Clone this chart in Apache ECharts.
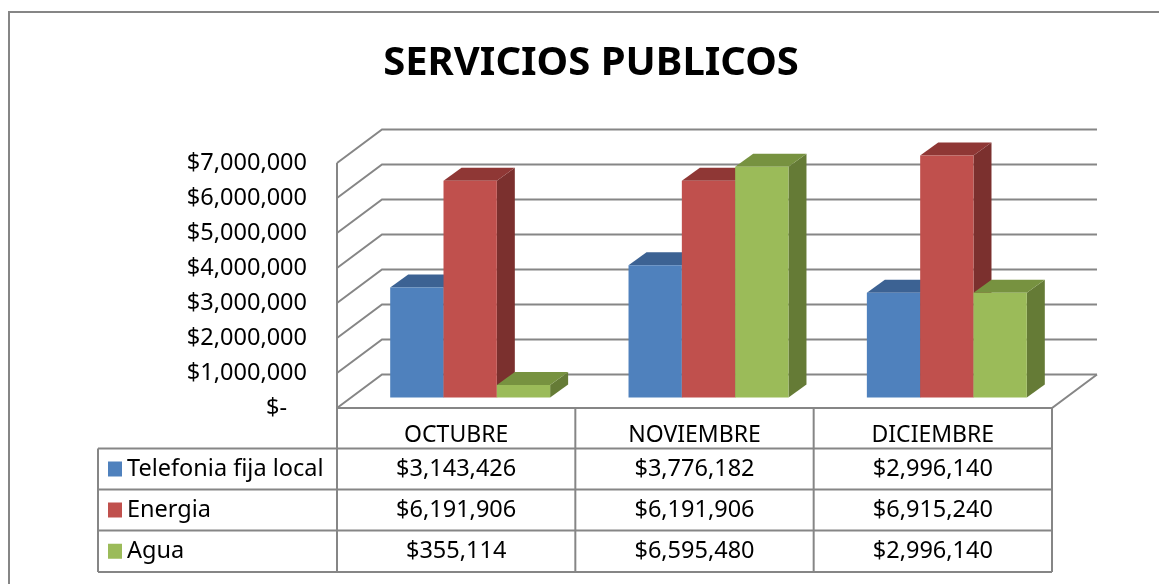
<!DOCTYPE html>
<html>
<head>
<meta charset="utf-8">
<script src="https://cdn.jsdelivr.net/npm/echarts@6/dist/echarts.min.js"></script>
<style>
  html, body { margin: 0; padding: 0; background: #fff; }
  #chart { width: 1159px; height: 584px; }
</style>
</head>
<body>
<div id="chart"></div>
<script>
  // datos
  const months = ['OCTUBRE', 'NOVIEMBRE', 'DICIEMBRE']
  const seriesNames = ['Telefonia fija local', 'Energia', 'Agua']
  const telefonia = [3143426, 3776182, 2996140]
  const energia = [6191906, 6191906, 6915240]
  const agua = [355114, 6595480, 2996140]
  const yTicks = [0, 1000000, 2000000, 3000000, 4000000, 5000000, 6000000, 7000000]

  const values = [telefonia, energia, agua]
  // colores: frente, lado, tapa
  const colors = [
    ['#4F81BD', '#2F4D73', '#3C6293'],
    ['#C0504D', '#7B302E', '#8F3735'],
    ['#9BBB59', '#657B36', '#779240']
  ]
  const lineColor = '#868686'
  const font = '"Noto Sans", sans-serif'
  const textSize = 23.5

  // profundidad de las paredes y de las barras
  const WDX = 45, WDY = -33.5
  const BDX = 14, BDY = -10.5
  const SDX = 18, SDY = -13

  const chart = echarts.init(document.getElementById('chart'))

  const fmt = v => '$' + v.toLocaleString('en-US')

  function wallItem (params, api) {
    const cs = params.coordSys
    const v = api.value(1)
    const y = api.coord([0, v])[1]
    const style = {stroke: lineColor, lineWidth: 2, fill: null}
    const children = [{
      type: 'polyline',
      shape: {points: [[cs.x, y], [cs.x + WDX, y + WDY], [cs.x + cs.width + WDX, y + WDY]]},
      style: style
    }]
    if (v === 0) {
      const yTop = api.coord([0, yTicks[yTicks.length - 1]])[1]
      children.unshift({
        type: 'polygon',
        shape: {points: [[cs.x, y], [cs.x + WDX, y + WDY], [cs.x + cs.width + WDX, y + WDY], [cs.x + cs.width, y]]},
        style: {fill: '#fff', stroke: null}
      })
      children.push({
        type: 'polyline',
        shape: {points: [[cs.x, y], [cs.x + cs.width, y], [cs.x + cs.width + WDX, y + WDY]]},
        style: style
      })
      children.push({
        type: 'line',
        shape: {x1: cs.x, y1: yTop, x2: cs.x, y2: y},
        style: style
      })
    }
    return {type: 'group', children: children}
  }

  function barRenderer (k) {
    return function (params, api) {
      const c = api.value(0)
      const v = api.value(1)
      const base = api.coord([c, 0])
      const top = api.coord([c, v])
      const band = api.size([1, 0])[0]
      const bw = band * 0.2237
      const x0 = base[0] - 1.5 * bw + k * bw + BDX
      const y0 = base[1] + BDY
      const yt = top[1] + BDY
      const col = colors[k]
      return {
        type: 'group',
        children: [
          {type: 'polygon',
            shape: {points: [[x0 + bw, yt], [x0 + bw + SDX, yt + SDY], [x0 + bw + SDX, y0 + SDY], [x0 + bw, y0]]},
            style: {fill: col[1]}},
          {type: 'polygon',
            shape: {points: [[x0, yt], [x0 + SDX, yt + SDY], [x0 + bw + SDX, yt + SDY], [x0 + bw, yt]]},
            style: {fill: col[2]}},
          {type: 'rect',
            shape: {x: x0, y: yt, width: bw, height: y0 - yt},
            style: {fill: col[0]}}
        ]
      }
    }
  }

  // tabla de datos bajo el grafico
  const gridLeft = 337, gridRight = 1052
  const tableLeft = 98
  const rowY = [408, 448.5, 489.5, 530.5, 572]
  const colW = (gridRight - gridLeft) / months.length
  const tableGraphic = []
  const lineStyle = {stroke: lineColor, lineWidth: 2}
  for (let r = 1; r < rowY.length; r++) {
    tableGraphic.push({type: 'line', shape: {x1: tableLeft, y1: rowY[r], x2: gridRight, y2: rowY[r]}, style: lineStyle})
  }
  tableGraphic.push({type: 'line', shape: {x1: tableLeft, y1: rowY[1], x2: tableLeft, y2: rowY[4]}, style: lineStyle})
  for (let i = 0; i <= months.length; i++) {
    const x = gridLeft + i * colW
    tableGraphic.push({type: 'line', shape: {x1: x, y1: rowY[0], x2: x, y2: rowY[4]}, style: lineStyle})
  }
  for (let k = 0; k < seriesNames.length; k++) {
    const cy = (rowY[k + 1] + rowY[k + 2]) / 2
    tableGraphic.push({type: 'rect', shape: {x: 108, y: cy - 7.5, width: 14, height: 15}, style: {fill: colors[k][0]}})
    tableGraphic.push({type: 'text', x: 127, y: cy,
      style: {text: seriesNames[k], font: textSize + 'px ' + font, fill: '#000', verticalAlign: 'middle', align: 'left'}})
    for (let i = 0; i < months.length; i++) {
      tableGraphic.push({type: 'text', x: gridLeft + (i + 0.5) * colW, y: cy,
        style: {text: fmt(values[k][i]), font: textSize + 'px ' + font, fill: '#000', verticalAlign: 'middle', align: 'center'}})
    }
  }

  chart.setOption({
    animation: false,
    backgroundColor: '#fff',
    grid: {left: gridLeft, right: 1159 - gridRight, top: 163, bottom: 584 - 408},
    xAxis: {
      type: 'category',
      data: months,
      axisLine: {show: false},
      axisTick: {show: false},
      axisLabel: {color: '#000', fontSize: 23, fontFamily: font, margin: 16}
    },
    yAxis: {
      type: 'value',
      min: 0,
      max: 7000000,
      interval: 1000000,
      axisLine: {show: false},
      axisTick: {show: false},
      splitLine: {show: false},
      axisLabel: {
        color: '#000', fontSize: textSize, fontFamily: font, margin: 30,
        formatter: v => v === 0 ? '{z|$-}' : fmt(v),
        rich: {z: {color: '#000', fontSize: textSize, fontFamily: font, padding: [0, 20, 0, 0]}}
      }
    },
    graphic: [
      {type: 'rect', shape: {x: 9, y: 12, width: 1200, height: 700}, style: {fill: null, stroke: lineColor, lineWidth: 2}, z: 0},
      {type: 'text', x: 591, y: 64,
        style: {text: 'SERVICIOS PUBLICOS', font: 'bold 40px ' + font, fill: '#000', align: 'center', verticalAlign: 'middle'}}
    ].concat(tableGraphic),
    series: [
      {type: 'custom', name: 'paredes', z: 1, renderItem: wallItem, data: yTicks.map(v => [0, v]), silent: true}
    ].concat(seriesNames.map((name, k) => ({
      type: 'custom',
      name: name,
      z: 2,
      renderItem: barRenderer(k),
      data: values[k].map((v, i) => [i, v])
    })))
  })
</script>
</body>
</html>
